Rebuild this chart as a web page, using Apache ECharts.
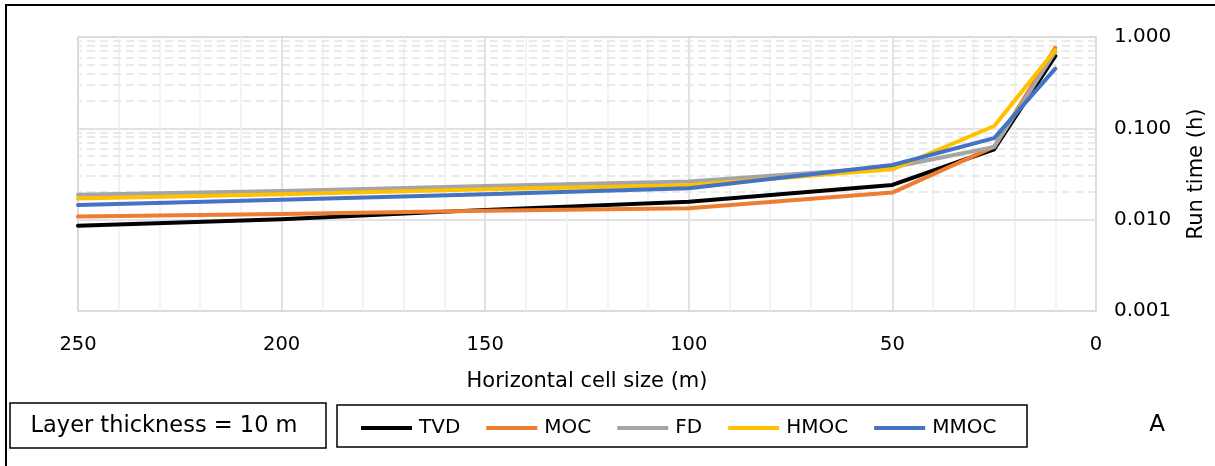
<!DOCTYPE html>
<html>
<head>
<meta charset="utf-8">
<script src="https://cdn.jsdelivr.net/npm/echarts@6/dist/echarts.min.js"></script>
<style>
  html, body { margin: 0; padding: 0; background: #fff; }
  #chart { width: 1215px; height: 466px; }
</style>
</head>
<body>
<div id="chart"></div>
<script>
// Run time (h) against horizontal cell size (m), layer thickness 10 m
const cellSizes = [250, 200, 150, 100, 50, 25, 10];
const tvd  = [0.0086, 0.0101, 0.0128, 0.0157, 0.0240, 0.059, 0.62];
const moc  = [0.0108, 0.0115, 0.0125, 0.0133, 0.0198, 0.063, 0.76];
const fd   = [0.0187, 0.0206, 0.0234, 0.0261, 0.0375, 0.0625, 0.69];
const hmoc = [0.0170, 0.0190, 0.0215, 0.0238, 0.0356, 0.106, 0.72];
const mmoc = [0.0145, 0.0165, 0.0190, 0.0221, 0.0397, 0.078, 0.45];

const seriesNames = ['TVD', 'MOC', 'FD', 'HMOC', 'MMOC'];
const seriesColors = ['#000000', '#ED7D31', '#A5A5A5', '#FFC000', '#4472C4'];
const seriesValues = [tvd, moc, fd, hmoc, mmoc];

// Minor log gridlines: 2..9 within each decade
const decades = [0.001, 0.01, 0.1];
const minorMultipliers = [2, 3, 4, 5, 6, 7, 8, 9];

const FONT = 'DejaVu Sans';

const minorGridValues = [];
decades.forEach(d => minorMultipliers.forEach(m => minorGridValues.push(+(d * m).toPrecision(3))));

const chart = echarts.init(document.getElementById('chart'), null, { renderer: 'canvas' });

const lineSeries = seriesNames.map((name, i) => ({
  name,
  type: 'line',
  data: cellSizes.map((x, j) => [x, seriesValues[i][j]]),
  showSymbol: false,
  symbol: 'none',
  lineStyle: { color: seriesColors[i], width: 4, cap: 'round', join: 'round' },
  itemStyle: { color: seriesColors[i] },
  z: 3,
  animation: false
}));

const option = {
  animation: false,
  backgroundColor: '#fff',
  grid: {
    left: 78, right: 117, top: 37, bottom: 155,
    show: true, borderColor: '#d9d9d9', borderWidth: 1.5
  },
  legend: {
    data: seriesNames,
    left: 356, top: 413,
    icon: 'rect',
    itemWidth: 51, itemHeight: 4,
    itemGap: 26,
    textStyle: { fontFamily: FONT, fontSize: 20, color: '#000', padding: [0, 0, 0, 2] }
  },
  xAxis: {
    type: 'value',
    inverse: true,
    min: 0, max: 250, interval: 50,
    name: 'Horizontal cell size (m)',
    nameLocation: 'middle',
    nameGap: 60,
    nameTextStyle: { fontFamily: FONT, fontSize: 21, color: '#000' },
    axisLine: { show: false },
    axisTick: { show: false },
    axisLabel: { margin: 24, fontFamily: FONT, fontSize: 19.5, color: '#000' },
    splitLine: { show: true, lineStyle: { color: '#d9d9d9', width: 1.5 } },
    minorTick: { show: false, splitNumber: 5 },
    minorSplitLine: { show: true, lineStyle: { color: '#efefef', width: 1.5 } }
  },
  yAxis: {
    type: 'log',
    logBase: 10,
    position: 'right',
    min: 0.001, max: 1,
    name: 'Run time (h)',
    nameLocation: 'middle',
    nameRotate: 90,
    nameGap: 90,
    nameTextStyle: { fontFamily: FONT, fontSize: 21, color: '#000' },
    axisLine: { show: false },
    axisTick: { show: false },
    axisLabel: {
      margin: 18, fontFamily: FONT, fontSize: 20, color: '#000',
      formatter: v => Number(v).toFixed(3)
    },
    splitLine: { show: true, lineStyle: { color: '#d9d9d9', width: 1.5 } }
  },
  series: [
    {
      name: 'minor-grid',
      type: 'line',
      data: [],
      silent: true,
      z: 1,
      markLine: {
        silent: true,
        z: 1,
        symbol: ['none', 'none'],
        label: { show: false },
        lineStyle: { color: '#e4e4e4', type: [8, 5], width: 1.5 },
        emphasis: { disabled: true },
        data: minorGridValues.map(v => ({ yAxis: v }))
      }
    },
    ...lineSeries
  ],
  graphic: [
    // outer frame (left and top edges visible)
    { type: 'rect', shape: { x: 6, y: 5, width: 1300, height: 600 }, style: { fill: 'none', stroke: '#000', lineWidth: 2 }, silent: true },
    // caption box
    { type: 'rect', shape: { x: 10, y: 403, width: 316, height: 45 }, style: { fill: '#fff', stroke: '#000', lineWidth: 1.5 }, silent: true },
    { type: 'text', x: 164, y: 426, style: { text: 'Layer thickness = 10 m', fontFamily: FONT, fontSize: 22.5, fill: '#000', align: 'center', verticalAlign: 'middle' }, silent: true },
    // legend frame
    { type: 'rect', shape: { x: 337, y: 405, width: 690, height: 42 }, style: { fill: 'none', stroke: '#000', lineWidth: 1.5 }, silent: true, z: -1 },
    // panel letter
    { type: 'text', x: 1157, y: 425, style: { text: 'A', fontFamily: FONT, fontSize: 23, fill: '#000', align: 'center', verticalAlign: 'middle' }, silent: true }
  ]
};

chart.setOption(option);
</script>
</body>
</html>
